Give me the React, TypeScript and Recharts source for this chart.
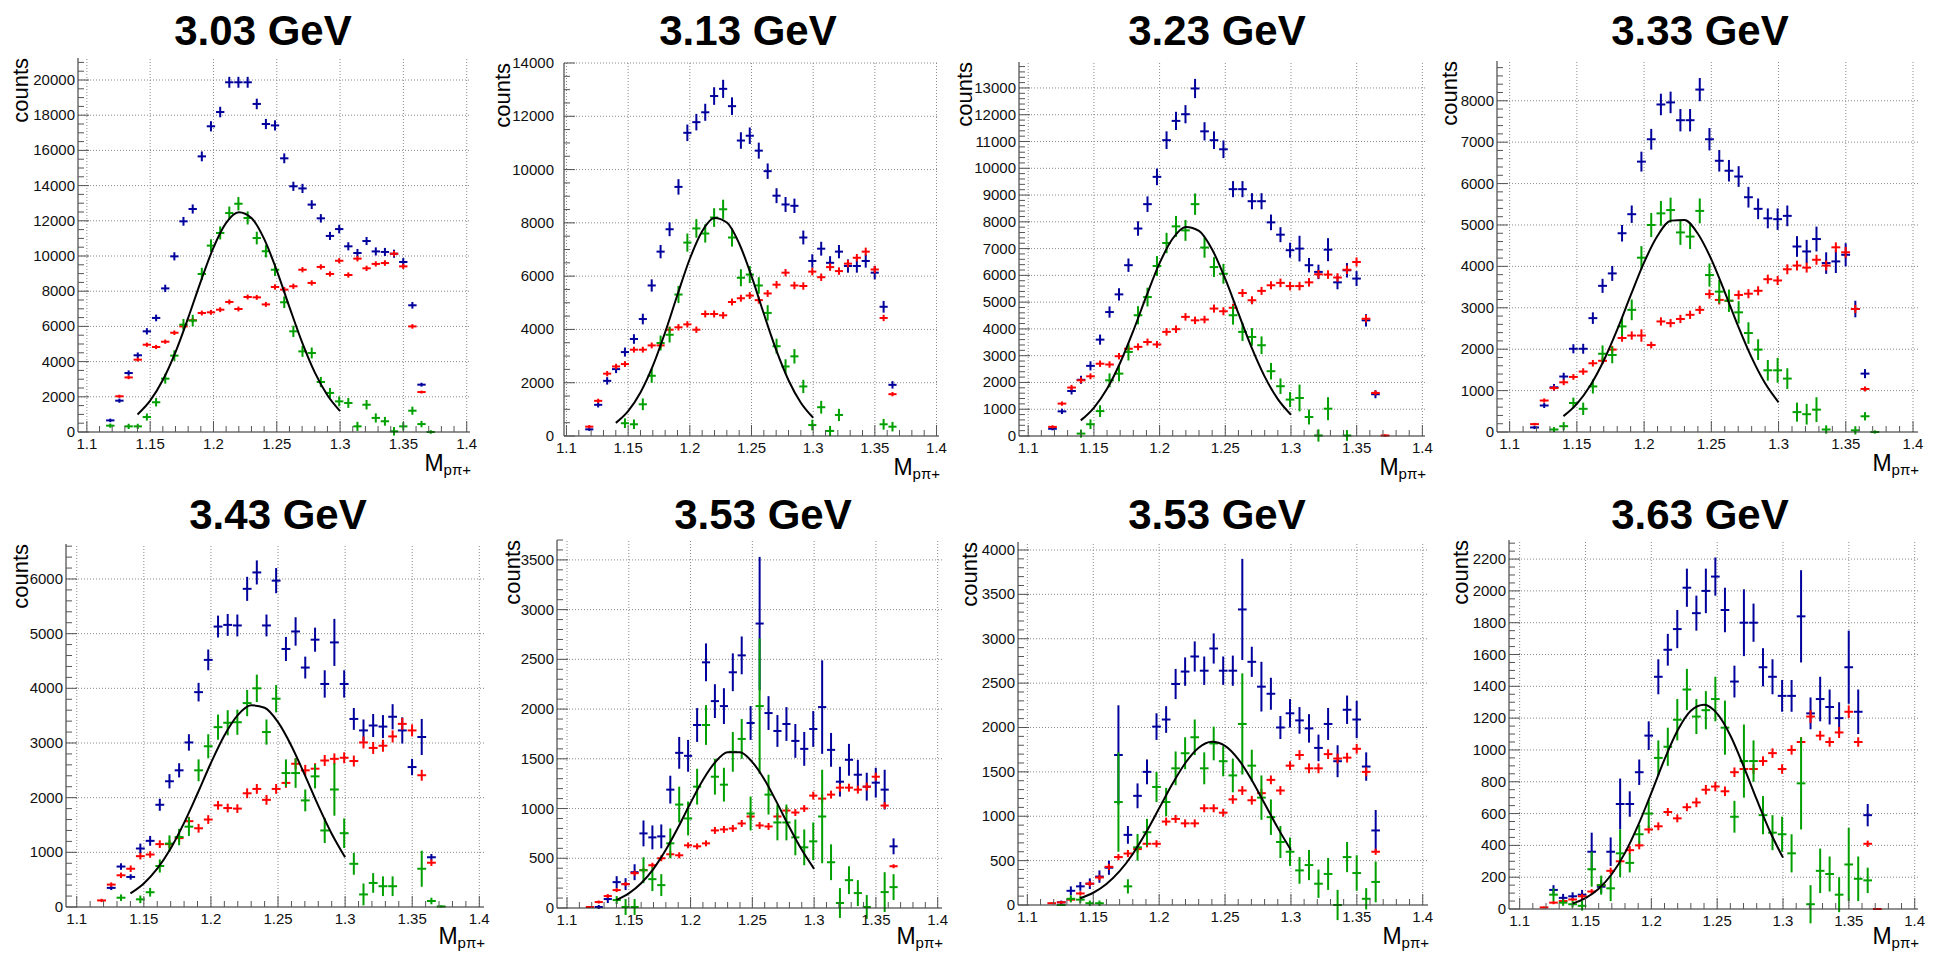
import React from 'react'
import { ComposedChart, XAxis, YAxis, Scatter, ErrorBar, Line, ReferenceLine } from 'recharts'

// bin centres of M(p pi+) [GeV]
const bins = [
  1.1185, 1.1257, 1.133, 1.1402, 1.1474, 1.1547, 1.1619, 1.1691, 1.1763, 1.1836,
  1.1908, 1.198, 1.2053, 1.2125, 1.2197, 1.227, 1.2342, 1.2414, 1.2486, 1.2559,
  1.2631, 1.2703, 1.2776, 1.2848, 1.292, 1.2993, 1.3065, 1.3137, 1.3209, 1.3282,
  1.3354, 1.3426, 1.3499, 1.3571, 1.3643, 1.3716,
]
const fitX = [1.14, 1.15, 1.16, 1.17, 1.18, 1.19, 1.2, 1.21, 1.22, 1.23, 1.24, 1.25, 1.26, 1.27, 1.28, 1.29, 1.3]
const xMajors = [1.1, 1.15, 1.2, 1.25, 1.3, 1.35, 1.4]

// ---- 3.03 GeV
const blue303 = [660, 1780, 3350, 4360, 5720, 6480, 8160, 9980, 11970, 12670, 15660, 17370, 18180, 19870, 19870, 19870, 18640, 17500, 17420, 15550, 13960, 13840, 12920, 12140, 11140, 11530, 10550, 10170, 10850, 10260, 10230, 10130, 9660, 7200, 2690, null]
const blueErr303 = [100, 120, 150, 160, 180, 190, 210, 230, 250, 260, 280, 290, 300, 310, 310, 310, 300, 290, 290, 280, 260, 260, 250, 240, 230, 240, 230, 230, 230, 230, 230, 230, 220, 190, 110, 0]
const red303 = [null, 2030, 3100, 4110, 4960, 4830, 5130, 5640, 6000, 6350, 6760, 6800, 6950, 7390, 6990, 7670, 7650, 7250, 8240, 8090, 8280, 9220, 8470, 9380, 8980, 9730, 8920, 9850, 9300, 9550, 9600, 10130, 9410, 6000, 2270, null]
const redErr303 = [0, 90, 100, 110, 120, 120, 120, 130, 130, 130, 140, 140, 140, 140, 140, 140, 140, 140, 150, 150, 150, 150, 150, 150, 150, 150, 150, 160, 150, 150, 160, 160, 150, 130, 80, 0]
const green303 = [360, null, 320, 320, 850, 1690, 3030, 4340, 6100, 6330, 8980, 10590, 11310, 12440, 12970, 12160, 11020, 10270, 9220, 7370, 5720, 4580, 4490, 2840, 2220, 1740, 1650, 320, 1550, 800, 610, 40, 320, 1210, 450, 0]
const greenErr303 = [120, 0, 150, 150, 200, 240, 280, 300, 320, 330, 350, 360, 370, 370, 380, 370, 360, 350, 350, 330, 320, 310, 310, 290, 280, 280, 280, 260, 270, 260, 250, 240, 230, 230, 180, 100]
const fit303 = [993, 1778, 2953, 4543, 6483, 8563, 10480, 11884, 12490, 12160, 10970, 9171, 7098, 5094, 3388, 2088, 1189]
const yTicks303 = [0, 2000, 4000, 6000, 8000, 10000, 12000, 14000, 16000, 18000, 20000]

// ---- 3.13 GeV
const blue313 = [250, 1170, 2070, 2510, 3150, 3640, 4390, 5650, 6920, 7760, 9350, 11380, 11780, 12150, 12760, 13030, 12380, 11090, 11270, 10710, 9940, 9020, 8690, 8640, 7450, 6570, 7030, 6500, 6920, 6380, 6380, 6570, 6130, 4850, 1920, null]
const blueErr313 = [60, 100, 140, 150, 170, 180, 200, 230, 250, 260, 290, 310, 310, 320, 330, 340, 330, 310, 310, 300, 290, 280, 280, 270, 260, 250, 260, 250, 250, 250, 250, 250, 250, 220, 140, 0]
const red313 = [350, 1320, 2340, 2610, 2700, 3240, 3240, 3400, 3400, 3990, 4080, 4190, 3990, 4580, 4580, 4530, 5030, 5170, 5270, 5100, 5350, 5680, 6130, 5650, 5630, 6170, 5960, 6340, 6190, 6470, 6690, 6920, 6250, 4430, 1570, null]
const redErr313 = [60, 80, 100, 100, 110, 110, 110, 110, 110, 120, 120, 120, 120, 130, 130, 130, 130, 130, 130, 130, 130, 140, 140, 140, 140, 140, 140, 140, 140, 140, 140, 150, 140, 120, 80, 0]
const green313 = [null, null, null, null, 480, 440, 1190, 2260, 3490, 3800, 5310, 7260, 7790, 7600, 8200, 8510, 7450, 5940, 6060, 5650, 4620, 3370, 2610, 2990, 1860, 410, 1080, 190, 790, null, null, null, null, 440, 350, null]
const greenErr313 = [0, 0, 0, 0, 180, 180, 220, 260, 280, 290, 320, 340, 350, 340, 350, 360, 340, 320, 320, 310, 290, 280, 270, 270, 250, 200, 240, 190, 230, 0, 0, 0, 0, 200, 180, 0]
const fit313 = [493, 936, 1634, 2628, 3893, 5302, 6653, 7688, 8179, 8011, 7226, 6002, 4587, 3229, 2094, 1249, 686]
const yTicks313 = [0, 2000, 4000, 6000, 8000, 10000, 12000, 14000]

// ---- 3.23 GeV
const blue323 = [270, 920, 1680, 2100, 2620, 3600, 4630, 5290, 6380, 7750, 8660, 9680, 11050, 11770, 12020, 12980, 11380, 11050, 10710, 9220, 9220, 8770, 8770, 7980, 7520, 6940, 7000, 6380, 6130, 6960, 5740, 6190, 5880, 4320, 1560, null]
const blueErr323 = [60, 100, 130, 150, 170, 190, 210, 230, 250, 270, 290, 310, 330, 340, 340, 360, 340, 330, 330, 300, 300, 300, 300, 290, 280, 280, 480, 270, 270, 430, 260, 270, 280, 230, 150, 0]
const red323 = [340, 1210, 1810, 2080, 2230, 2700, 2670, 2980, 3260, 3330, 3510, 3420, 3890, 3990, 4450, 4320, 4350, 4760, 4660, 4790, 5340, 5070, 5420, 5630, 5720, 5600, 5600, 5740, 6040, 6030, 5920, 6210, 6500, 4380, 1610, 20]
const redErr323 = [60, 80, 100, 110, 110, 120, 120, 120, 130, 130, 130, 130, 140, 140, 140, 140, 140, 150, 150, 150, 150, 150, 150, 150, 160, 160, 160, 160, 160, 160, 160, 160, 170, 140, 90, 40]
const green323 = [null, null, null, 90, 440, 930, 2080, 2330, 3140, 4510, 5190, 6350, 7210, 7830, 7680, 8660, 7040, 6310, 6060, 4510, 3890, 3700, 3390, 2420, 1860, 1360, 1420, 710, 20, 1020, null, 20, null, null, null, null]
const greenErr323 = [0, 0, 0, 150, 180, 220, 260, 290, 320, 340, 350, 370, 380, 390, 390, 400, 380, 370, 370, 350, 340, 330, 330, 310, 290, 280, 500, 280, 230, 430, 0, 200, 0, 0, 0, 0]
const fit323 = [583, 1053, 1763, 2737, 3931, 5233, 6456, 7377, 7811, 7664, 6968, 5866, 4578, 3311, 2219, 1376, 792]
const yTicks323 = [0, 1000, 2000, 3000, 4000, 5000, 6000, 7000, 8000, 9000, 10000, 11000, 12000, 13000]

// ---- 3.33 GeV
const blue333 = [110, 640, 1080, 1340, 2010, 2010, 2750, 3530, 3830, 4800, 5260, 6530, 7070, 7910, 7960, 7530, 7530, 8270, 7070, 6550, 6310, 6170, 5670, 5390, 5160, 5140, 5220, 4480, 4360, 4660, 4080, 4120, 4280, 2970, 1410, null]
const blueErr333 = [40, 60, 80, 90, 110, 120, 140, 170, 180, 200, 210, 240, 250, 260, 260, 270, 270, 280, 270, 260, 260, 250, 250, 250, 240, 260, 250, 250, 280, 300, 260, 280, 280, 200, 110, 0]
const red333 = [190, 760, 1060, 1200, 1330, 1460, 1660, 1720, 1990, 2270, 2330, 2330, 2100, 2670, 2630, 2730, 2830, 2950, 3330, 3190, 3170, 3310, 3340, 3410, 3690, 3660, 3930, 4020, 3970, 4160, 4020, 4460, 4340, 2970, 1040, null]
const redErr333 = [30, 50, 60, 70, 70, 80, 80, 80, 90, 90, 100, 150, 80, 100, 100, 100, 100, 100, 110, 110, 110, 110, 110, 110, 110, 110, 120, 120, 120, 120, 120, 120, 130, 100, 60, 0]
const green333 = [null, null, 60, 140, 700, 560, 1100, 1890, 1860, 2550, 2950, 4210, 5000, 5280, 5360, 4820, 4720, 5340, 3790, 3390, 3170, 2890, 2390, 1990, 1490, 1490, 1290, 480, 430, 540, 60, null, null, 40, 380, 0]
const greenErr333 = [0, 0, 60, 100, 130, 150, 170, 200, 200, 230, 250, 280, 290, 300, 300, 300, 300, 300, 280, 280, 270, 270, 260, 250, 250, 300, 250, 230, 250, 300, 100, 0, 0, 100, 100, 40]
const fit333 = [383, 681, 1122, 1726, 2472, 3297, 4096, 4738, 5105, 5123, 4787, 4169, 3380, 2551, 1796, 1176, 717]
const yTicks333 = [0, 1000, 2000, 3000, 4000, 5000, 6000, 7000, 8000]

// ---- 3.43 GeV
const blue343 = [null, 350, 740, 550, 1070, 1210, 1870, 2300, 2500, 3010, 3930, 4520, 5130, 5160, 5150, 5820, 6120, 5150, 5970, 4720, 5040, 4380, 4890, 4080, 4840, 4080, 3440, 3230, 3320, 3300, 3480, 3230, 2560, 3110, 910, null]
const blueErr343 = [0, 40, 60, 50, 90, 90, 110, 130, 130, 150, 170, 190, 200, 200, 200, 220, 220, 200, 230, 220, 260, 200, 220, 250, 430, 250, 200, 200, 210, 210, 230, 240, 150, 330, 60, 0]
const red343 = [120, 410, 580, 700, 930, 960, 1150, 1150, 1260, 1570, 1440, 1600, 1860, 1810, 1800, 2080, 2160, 1960, 2160, 2270, 2620, 2500, 2530, 2680, 2710, 2730, 2670, 3010, 2910, 2950, 3120, 3350, 3230, 2410, 810, null]
const redErr343 = [30, 40, 50, 60, 60, 60, 70, 70, 70, 80, 80, 80, 80, 80, 80, 90, 90, 90, 90, 90, 100, 100, 100, 100, 100, 100, 100, 110, 110, 110, 110, 110, 110, 100, 60, 0]
const green343 = [null, null, 170, null, 140, 270, 750, 1160, 1280, 1470, 2500, 2940, 3290, 3370, 3380, 3730, 4000, 3200, 3810, 2450, 2450, 1950, 2390, 1400, 2150, 1350, 790, 230, 440, 380, 380, null, null, 700, 110, 10]
const greenErr343 = [0, 0, 60, 0, 70, 80, 120, 150, 150, 170, 200, 220, 230, 230, 230, 240, 250, 230, 250, 250, 270, 200, 220, 230, 480, 270, 200, 200, 180, 180, 180, 0, 0, 330, 60, 20]
const fit343 = [248, 430, 700, 1071, 1538, 2076, 2634, 3137, 3510, 3690, 3644, 3381, 2946, 2412, 1855, 1341, 910]
const yTicks343 = [0, 1000, 2000, 3000, 4000, 5000, 6000]

// ---- 3.53 GeV (first)
const blue353a = [null, 10, 90, 260, 240, 360, 750, 710, 720, 1190, 1560, 1530, 1840, 2470, 2080, 2030, 2370, 2540, 1860, 2860, 1960, 1780, 1850, 1680, 1600, 1800, 2020, 1590, 1270, 1490, 1340, 1220, 1260, 1190, 620, null]
const blueErr353a = [0, 20, 40, 60, 60, 80, 130, 120, 120, 140, 160, 160, 170, 190, 170, 180, 190, 190, 170, 670, 170, 160, 170, 170, 170, 180, 470, 170, 150, 160, 150, 140, 150, 200, 80, 0]
const red353a = [10, 60, 120, 180, 240, 350, 380, 430, 500, 540, 530, 630, 620, 650, 780, 790, 800, 850, 920, 830, 820, 920, 980, 960, 1000, 1130, 1100, 1140, 1210, 1210, 1190, 1220, 1320, 1030, 420, null]
const redErr353a = [10, 15, 20, 20, 20, 25, 25, 25, 30, 30, 30, 30, 30, 30, 35, 35, 35, 35, 35, 35, 35, 35, 35, 35, 35, 40, 40, 40, 40, 40, 40, 40, 40, 35, 20, 0]
const green353a = [null, null, null, 80, 10, 10, 380, 290, 230, 650, 1040, 900, 1220, 1840, 1320, 1240, 1570, 1700, 950, 2030, 1140, 860, 860, 710, 610, 670, 920, 460, 50, 280, 150, 10, null, 160, 210, null]
const greenErr353a = [0, 0, 0, 40, 80, 80, 130, 120, 110, 150, 180, 170, 180, 200, 180, 170, 200, 200, 170, 680, 200, 180, 180, 180, 180, 190, 470, 180, 150, 140, 130, 120, 0, 200, 130, 0]
const fit353a = [81, 147, 249, 394, 585, 812, 1057, 1287, 1467, 1567, 1567, 1467, 1287, 1057, 812, 585, 394]
const yTicks353a = [0, 500, 1000, 1500, 2000, 2500, 3000, 3500]

// ---- 3.53 GeV (second)
const blue353b = [null, 30, 160, 210, 240, 320, 420, 1690, 790, 1230, 1500, 2010, 2090, 2490, 2630, 2800, 2640, 2890, 2640, 2640, 3330, 2740, 2460, 2380, 2000, 2160, 2080, 1990, 1770, 2040, 1620, 2200, 2090, 1560, 840, null]
const blueErr353b = [0, 20, 50, 50, 60, 70, 80, 560, 100, 140, 140, 150, 150, 170, 160, 170, 160, 170, 160, 170, 570, 170, 280, 180, 130, 160, 150, 160, 150, 180, 180, 160, 210, 160, 230, 0]
const red353b = [20, 30, 60, 130, 240, 310, 430, 540, 580, 630, 690, 690, 940, 970, 920, 920, 1090, 1090, 1040, 1190, 1290, 1180, 1260, 1410, 1290, 1570, 1690, 1540, 1540, 1700, 1650, 1660, 1760, 1500, 600, null]
const redErr353b = [10, 15, 20, 25, 30, 30, 35, 35, 40, 40, 40, 40, 45, 45, 45, 45, 45, 45, 45, 50, 50, 50, 50, 50, 50, 50, 55, 55, 55, 55, 55, 55, 55, 50, 35, 0]
const green353b = [null, 0, 70, 60, 20, 20, null, 1160, 210, 650, 820, 1330, 1160, 1540, 1710, 1890, 1540, 1820, 1620, 1460, 2040, 1570, 1210, 990, 710, 600, 390, 450, 240, 350, 0, 540, 360, 70, 260, null]
const greenErr353b = [0, 10, 40, 40, 30, 30, 0, 560, 80, 150, 150, 170, 160, 190, 180, 200, 180, 190, 170, 190, 570, 180, 250, 200, 180, 160, 150, 170, 160, 180, 170, 170, 200, 120, 230, 0]
const fit353b = [76, 138, 237, 381, 575, 816, 1089, 1363, 1603, 1772, 1839, 1794, 1644, 1415, 1144, 869, 620]
const yTicks353b = [0, 500, 1000, 1500, 2000, 2500, 3000, 3500, 4000]

// ---- 3.63 GeV
const blue363 = [null, 120, 70, 80, 90, 360, 140, 360, 660, 660, 860, 1090, 1460, 1630, 1760, 2020, 1860, 2000, 2090, 1880, 1430, 1800, 1800, 1520, 1460, 1340, 1340, 1840, 1230, 1320, 1270, 1200, 1520, 1240, 590, null]
const blueErr363 = [0, 30, 25, 25, 30, 120, 40, 90, 160, 80, 80, 90, 110, 100, 120, 120, 110, 140, 120, 140, 100, 210, 120, 120, 110, 100, 100, 290, 100, 140, 110, 100, 230, 140, 70, 0]
const red363 = [10, 40, 50, 60, 80, 110, 150, 240, 300, 370, 400, 500, 520, 610, 570, 640, 670, 750, 770, 740, 860, 880, 880, 930, 980, 880, 1000, 1050, 1210, 1090, 1050, 1110, 1240, 1050, 410, 0]
const redErr363 = [5, 10, 10, 10, 15, 15, 20, 20, 25, 25, 25, 25, 25, 25, 25, 25, 30, 30, 30, 30, 30, 30, 30, 30, 30, 30, 30, 30, 40, 30, 30, 35, 40, 30, 20, 0]
const green363 = [null, 90, 40, 30, 20, 250, 150, 130, 350, 290, 470, 600, 950, 1020, 1190, 1380, 1210, 1250, 1320, 1140, 580, 930, 930, 590, 480, 470, 350, 790, 30, 240, 220, 90, 280, 190, 180, null]
const greenErr363 = [0, 40, 20, 20, 30, 110, 60, 80, 150, 60, 60, 90, 110, 120, 130, 130, 110, 120, 140, 170, 100, 230, 130, 120, 110, 110, 120, 290, 120, 140, 110, 110, 230, 140, 80, 0]
const fit363 = [34, 68, 127, 220, 353, 527, 730, 941, 1124, 1247, 1284, 1228, 1091, 899, 689, 489, 323]
const yTicks363 = [0, 200, 400, 600, 800, 1000, 1200, 1400, 1600, 1800, 2000, 2200]

const FONT = '"Liberation Sans", Arial, Helvetica, sans-serif'
const BLUE = '#00009c'
const RED = '#ff0000'
const GREEN = '#00a000'
const XERR = 0.0033

// frame = [left, top, right, bottom] of the plot box in page pixels
const panels = [
  { title: '3.03 GeV', titleX: 263, titleY: 45, countsX: 28, labelGap: 3, frame: [78, 58, 470, 432], xDomain: [1.093, 1.4026], yMax: 21250, yMinor: 500, yTicks: yTicks303, blue: blue303, blueErr: blueErr303, red: red303, redErr: redErr303, green: green303, greenErr: greenErr303, fit: fit303 },
  { title: '3.13 GeV', titleX: 748, titleY: 45, countsX: 510, labelGap: 10, frame: [564, 63, 939, 436], xDomain: [1.098, 1.402], yMax: 14000, yMinor: 500, yTicks: yTicks313, blue: blue313, blueErr: blueErr313, red: red313, redErr: redErr313, green: green313, greenErr: greenErr313, fit: fit313 },
  { title: '3.23 GeV', titleX: 1217, titleY: 45, countsX: 972, labelGap: 3, frame: [1019, 62, 1425, 436], xDomain: [1.093, 1.402], yMax: 13970, yMinor: 200, yTicks: yTicks323, blue: blue323, blueErr: blueErr323, red: red323, redErr: redErr323, green: green323, greenErr: greenErr323, fit: fit323 },
  { title: '3.33 GeV', titleX: 1700, titleY: 45, countsX: 1457, labelGap: 3, frame: [1497, 61, 1918, 432], xDomain: [1.0906, 1.4037], yMax: 8960, yMinor: 200, yTicks: yTicks333, blue: blue333, blueErr: blueErr333, red: red333, redErr: redErr333, green: green333, greenErr: greenErr333, fit: fit333 },
  { title: '3.43 GeV', titleX: 278, titleY: 529, countsX: 28, labelGap: 3, frame: [66, 544, 484, 907], xDomain: [1.092, 1.4035], yMax: 6640, yMinor: 200, yTicks: yTicks343, blue: blue343, blueErr: blueErr343, red: red343, redErr: redErr343, green: green343, greenErr: greenErr343, fit: fit343 },
  { title: '3.53 GeV', titleX: 763, titleY: 529, countsX: 520, labelGap: 3, frame: [557, 540, 942, 908], xDomain: [1.0919, 1.4035], yMax: 3700, yMinor: 100, yTicks: yTicks353a, blue: blue353a, blueErr: blueErr353a, red: red353a, redErr: redErr353a, green: green353a, greenErr: greenErr353a, fit: fit353a },
  { title: '3.53 GeV', titleX: 1217, titleY: 529, countsX: 977, labelGap: 3, frame: [1018, 542, 1428, 905], xDomain: [1.0929, 1.404], yMax: 4090, yMinor: 100, yTicks: yTicks353b, blue: blue353b, blueErr: blueErr353b, red: red353b, redErr: redErr353b, green: green353b, greenErr: greenErr353b, fit: fit353b },
  { title: '3.63 GeV', titleX: 1700, titleY: 529, countsX: 1468, labelGap: 3, frame: [1509, 540, 1918, 909], xDomain: [1.0919, 1.4025], yMax: 2320, yMinor: 50, yTicks: yTicks363, blue: blue363, blueErr: blueErr363, red: red363, redErr: redErr363, green: green363, greenErr: greenErr363, fit: fit363 },
]

// minor tick positions (axis decoration only)
const steps = (from: number, to: number, step: number) => {
  const out: number[] = []
  for (let i = 0; from + i * step <= to + 1e-9; i++) out.push(Math.round((from + i * step) * 1e6) / 1e6)
  return out
}
const isMajor = (v: number, majors: number[]) => majors.some((m) => Math.abs(m - v) < 1e-7)

const xTick = (side: 'bottom' | 'top') => (props: any) => {
  const { x, y, payload } = props
  const v = payload.value
  const major = isMajor(v, xMajors)
  const len = major ? 11 : 6
  const d = side === 'bottom' ? -len : len
  return (
    <g>
      <line x1={x} x2={x} y1={y} y2={y + d} stroke="#555" />
      {side === 'bottom' && major ? (
        <text x={x} y={y + 17} textAnchor="middle" fontSize={15} fontFamily={FONT} fill="#111">{String(v)}</text>
      ) : null}
    </g>
  )
}

const yTick = (side: 'left' | 'right', majors: number[], gap: number) => (props: any) => {
  const { x, y, payload } = props
  const v = payload.value
  const major = isMajor(v, majors)
  const len = major ? 11 : 6
  const d = side === 'left' ? len : -len
  return (
    <g>
      <line x1={x} x2={x + d} y1={y} y2={y} stroke="#555" />
      {side === 'left' && major ? (
        <text x={x - gap} y={y + 5} textAnchor="end" fontSize={15} fontFamily={FONT} fill="#111">{String(v)}</text>
      ) : null}
    </g>
  )
}

const toPoints = (vals: (number | null)[], errs: number[]) =>
  bins
    .map((x, i) => (vals[i] == null ? null : { x, y: vals[i] as number, ey: errs[i], ex: XERR }))
    .filter((p) => p !== null)

function Panel({ p }: { p: any }) {
  const [l, t, r, b] = p.frame
  const PL = 70
  const PT = 14
  const PR = 16
  const PB = 40
  const w = r - l + PL + PR
  const h = b - t + PT + PB
  const xTicks = steps(1.1, 1.4, 0.01)
  const yTicks = steps(0, p.yMax, p.yMinor)
  const fit = fitX.map((x, i) => ({ x, y: p.fit[i] }))
  const series = [
    { data: toPoints(p.blue, p.blueErr), color: BLUE },
    { data: toPoints(p.red, p.redErr), color: RED },
    { data: toPoints(p.green, p.greenErr), color: GREEN },
  ]
  return (
    <div style={{ position: 'absolute', left: l - PL, top: t - PT }}>
      <ComposedChart width={w} height={h} margin={{ top: PT, right: PR, bottom: 0, left: 0 }}>
        <XAxis dataKey="x" type="number" domain={p.xDomain} allowDataOverflow ticks={xTicks} interval={0}
          tickSize={0} tickMargin={0} tickLine={false} height={PB} axisLine={{ stroke: '#222' }} tick={xTick('bottom')} />
        <XAxis xAxisId="top" orientation="top" type="number" domain={p.xDomain} allowDataOverflow ticks={xTicks} interval={0}
          tickSize={0} tickMargin={0} tickLine={false} height={0} axisLine={{ stroke: '#222' }} tick={xTick('top')} />
        <YAxis dataKey="y" type="number" domain={[0, p.yMax]} allowDataOverflow ticks={yTicks} interval={0}
          tickSize={0} tickMargin={0} tickLine={false} width={PL} axisLine={{ stroke: '#222' }} tick={yTick('left', p.yTicks, p.labelGap)} />
        <YAxis yAxisId="right" orientation="right" type="number" domain={[0, p.yMax]} allowDataOverflow ticks={yTicks} interval={0}
          tickSize={0} tickMargin={0} tickLine={false} width={0} axisLine={{ stroke: '#222' }} tick={yTick('right', p.yTicks, 0)} />
        {xMajors.map((v) => (
          <ReferenceLine key={'gx' + v} x={v} stroke="#8a8a8a" strokeDasharray="1 2" />
        ))}
        {p.yTicks.filter((v: number) => v > 0).map((v: number) => (
          <ReferenceLine key={'gy' + v} y={v} stroke="#8a8a8a" strokeDasharray="1 2" />
        ))}
        {series.map((s, k) => (
          <Scatter key={k} data={s.data} dataKey="y" isAnimationActive={false} shape={() => <g />}>
            <ErrorBar dataKey="ey" direction="y" width={0} stroke={s.color} strokeWidth={2} />
            <ErrorBar dataKey="ex" direction="x" width={0} stroke={s.color} strokeWidth={2} />
          </Scatter>
        ))}
        <Line data={fit} dataKey="y" type="monotone" stroke="#000" strokeWidth={2} dot={false} isAnimationActive={false} />
      </ComposedChart>
    </div>
  )
}

export default function App() {
  return (
    <div style={{ position: 'absolute', left: 0, top: 0, width: 1934, height: 955, background: '#fff', overflow: 'hidden' }}>
      {panels.map((p, i) => (
        <Panel key={i} p={p} />
      ))}
      <svg width={1934} height={955} style={{ position: 'absolute', left: 0, top: 0, pointerEvents: 'none' }}>
        {panels.map((p, i) => {
          const [, t, r, b] = p.frame
          return (
            <g key={i} fontFamily={FONT} fill="#000">
              <text x={p.titleX} y={p.titleY} textAnchor="middle" fontSize={42} fontWeight="bold">{p.title}</text>
              <text transform={`translate(${p.countsX},${t}) rotate(-90)`} textAnchor="end" fontSize={22}>counts</text>
              <text x={r + 1} y={Math.min(b + 39, 944)} textAnchor="end" fontSize={23}>
                M<tspan fontSize={15} dy={4}>pπ+</tspan>
              </text>
            </g>
          )
        })}
      </svg>
    </div>
  )
}
